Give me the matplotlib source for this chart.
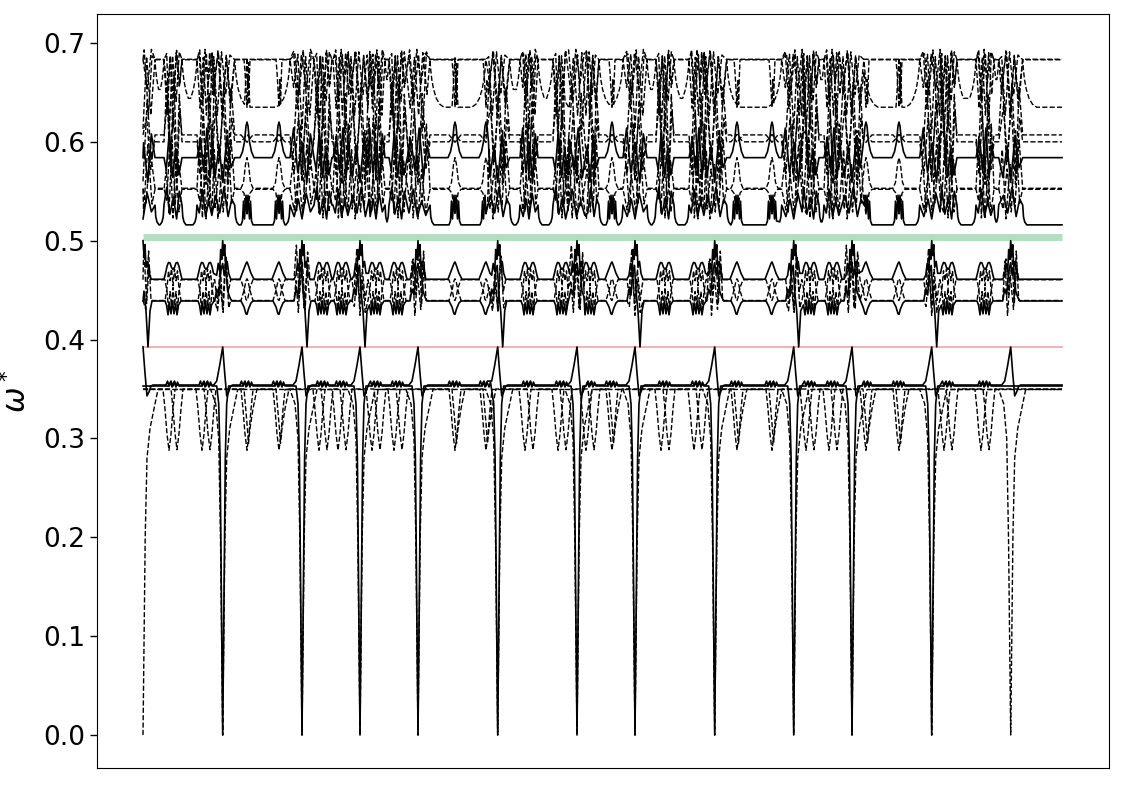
import numpy as np
import matplotlib
matplotlib.use("Agg")
import matplotlib.pyplot as plt

# ------------------------------------------------------------------ data
# k = distance along the path, in picture pixels from the first Gamma point
GAMMA_K = [0, 79.7, 159, 217, 275, 354.7, 434, 492, 571.7, 650.7, 709, 788.7, 867.7]
END_K = 919
FEAT_K = [30, 63, 104, 136, 180, 199, 233, 255, 312, 343, 386, 419,
          447, 469, 522, 555, 594, 629, 667, 690, 723, 756, 805, 842]
FEAT_KIND = "WWVVWWWWVVWWWVWWVVWWVVWW"     # W = double feature, V = single
SOLID_V_AT = [1, 2, 3, 4, 5, 6, 7, 8, 9, 10, 11]   # gammas where solid branch hits 0
DROP_AT = [0, 2, 3, 5, 7, 9, 11]                   # gammas where 0.439 band dips to red line

RED_LEVEL = 0.3925
GREEN_LEVEL = 0.5035
LOW_LEVELS = [0.3530, 0.3540, 0.3495, 0.3495, 0.3500]
MID_LEVELS = [0.461, 0.439, 0.4605, 0.4395]
UP_LEVELS = [0.683, 0.6835, 0.635, 0.607, 0.600, 0.584, 0.553, 0.552, 0.516]

# shapes: (dk, dω)
ACOU_SOLID = [(-6, 0.353), (-4, 0.335), (-2.6, 0.28), (-1.2, 0.13), (0, 0.0),
              (1.2, 0.13), (2.6, 0.28), (4, 0.335), (6, 0.353)]
ACOU_DASH = [(-12, 0.3495), (-7, 0.335), (-4, 0.30), (-2.2, 0.2), (0, 0.0),
             (2.2, 0.2), (4, 0.28), (7, 0.31), (11, 0.33), (15, 0.3495)]
PEAK = [(-9, 0), (-6, 0.004), (-3, 0.02), (0, 0.0385), (2, 0.012), (4, -0.011),
        (6, -0.007), (8, -0.001), (10, 0)]
LOW_BUMP = [(-5, 0), (-3.5, 0.004), (-2, -0.001), (0, 0.004), (2, -0.001), (3.5, 0.004), (5, 0)]
DIP_V = [(-6, 0), (-4, -0.02), (-2, -0.045), (0, -0.0615), (2, -0.045), (4, -0.02), (6, 0)]
SLANT = [(-3, 0), (0, -0.035), (1.5, -0.055), (3, -0.04), (6, -0.02), (10, 0)]

M1_G = [(-8, 0), (-6, 0.004), (-4.5, 0.016), (-3, 0.008), (-2, 0.03), (-1, 0.02), (0, 0.039),
        (1, 0.024), (2, 0.035), (3, 0.012), (4.5, 0.018), (6, 0.006), (8, 0)]
CROWN = [(-9, 0), (-7.5, 0.006), (-6, 0.013), (-4.5, 0.017), (-3, 0.0165), (-1.5, 0.012), (0, 0.01),
         (1.5, 0.012), (3, 0.0165), (4.5, 0.017), (6, 0.013), (7.5, 0.006), (9, 0)]
TRI = [(-7, 0), (-4, 0.008), (-1, 0.016), (0, 0.0175), (1, 0.015), (4, 0.006), (7, 0)]
M2_G = [(-8, 0), (-6, 0.012), (-4, 0.006), (-2, 0.03), (0, 0.038), (1.5, 0.026), (3, 0.033),
        (5, 0.01), (7, 0.004), (9, 0)]
M2_DROP = [(-8, 0), (-6, 0.012), (-4, 0.006), (-2, 0.03), (-0.5, 0.036), (1, 0.01), (3, -0.01),
           (5, -0.0465), (7, -0.01), (9, 0)]
W_DIP = [(-8, 0), (-6.5, -0.004), (-5, -0.014), (-3.5, -0.002), (-2, -0.013), (-0.5, 0.0),
         (1, -0.013), (2.5, -0.003), (4, -0.014), (5.5, -0.004), (8, 0)]
V_DIP = [(-6, 0), (-3, -0.006), (-1, -0.013), (0, -0.0135), (1.5, -0.008), (4, -0.002), (6, 0)]
MD1_W = [(-8, 0), (-6, -0.012), (-4.5, -0.03), (-3, -0.012), (-1.5, -0.026), (0, -0.008),
         (1.5, -0.026), (3, -0.012), (4.5, -0.03), (6, -0.012), (8, 0)]
MD1_V = [(-6, 0), (-3, -0.01), (-1, -0.02), (0, -0.021), (1, -0.018), (3, -0.008), (6, 0)]
MD2_W = [(-8, 0), (-6, 0.012), (-4.5, 0.03), (-3, 0.02), (-1.5, 0.032), (0, 0.015),
         (1.5, 0.032), (3, 0.02), (4.5, 0.03), (6, 0.012), (8, 0)]
MD2_V = [(-6, 0), (-3, 0.01), (-1, 0.02), (0, 0.022), (1, 0.02), (3, 0.01), (6, 0)]

VT1 = [(-3, 0), (-2, -0.012), (-1, -0.03), (0, -0.048), (0.8, -0.02), (1.6, -0.045), (2.4, -0.015), (3, 0)]
VT2 = [(-3, 0), (-2, 0.015), (-1, 0.035), (0, 0.05), (0.8, 0.02), (1.6, 0.045), (2.4, 0.012), (3, 0)]
VP1 = [(-6, 0), (-3, -0.0035), (0, -0.0075), (3, -0.0035), (6, 0)]
VP2 = [(-6, 0), (-3, 0.0035), (0, 0.0075), (3, 0.0035), (6, 0)]
VS584 = [(-7, 0), (-4.5, 0.006), (-2.5, 0.016), (-1, 0.032), (0, 0.036), (1, 0.032),
         (2.5, 0.016), (4.5, 0.006), (7, 0)]
VD553 = [(-6, 0), (-3.5, 0.006), (-1.5, 0.024), (0, 0.031), (1.5, 0.024), (3.5, 0.006), (6, 0)]
VD552 = [(-6, 0), (-3, -0.004), (-1.5, -0.016), (0, -0.025), (1.5, -0.016), (3, -0.004), (6, 0)]
VS516 = [(-6, 0), (-4.5, 0.004), (-3.5, 0.024), (-2.5, 0.006), (-1, 0.03), (0, 0.012), (1, 0.03),
         (2.5, 0.006), (3.5, 0.024), (4.5, 0.004), (6, 0)]
ARC = [(0, 0.048), (0.7, 0.038), (1.8, 0.028), (3.6, 0.018), (6.3, 0.009), (9.8, 0.003), (14, 0)]
CORNER = [(0, 0.02), (0.8, 0.008), (2, 0.003), (4, 0)]

# jagged crossings seen in the tangles (normalised: dk in [-1,1], dω in [-1,1])
ZIGS = [
    [(-1, 0), (-0.6, 0.6), (-0.25, -0.5), (0.1, 1.0), (0.45, -0.8), (0.75, 0.4), (1, 0)],
    [(-1, 0), (-0.65, -0.8), (-0.3, 0.4), (0, -1.0), (0.35, 0.7), (0.7, -0.4), (1, 0)],
    [(-1, 0), (-0.7, 1.0), (-0.35, -0.6), (0.05, 0.5), (0.4, -1.0), (0.7, 0.8), (1, 0)],
    [(-1, 0), (-0.75, -0.5), (-0.4, 0.9), (-0.05, -0.8), (0.3, 0.3), (0.65, -0.7), (1, 0)],
]


# ------------------------------------------------------------------ helpers
def piece(c, tmpl, base=0.0):
    return [(c + dk, base + dw) for dk, dw in tmpl]


def zig(c, h, base, up, down, idx, flip=False, lo=0.507, hi=0.695):
    pat = ZIGS[idx % len(ZIGS)]
    if flip:
        pat = [(-x, v) for x, v in reversed(pat)]
    out = []
    for x, v in pat:
        w = base + (v * up if v > 0 else v * down)
        out.append((c + x * h, min(max(w, lo), hi)))
    return out


def band(level, pieces):
    pieces = sorted([p for p in pieces if p], key=lambda p: p[0][0])
    kept = []
    for p in pieces:                       # drop shapes swallowed by a wider one
        if kept and p[-1][0] <= kept[-1][-1][0]:
            continue
        kept.append(p)
    pts = []
    for i, p in enumerate(kept):
        lo, hi = -np.inf, np.inf
        if i > 0 and kept[i - 1][-1][0] > p[0][0]:
            lo = 0.5 * (kept[i - 1][-1][0] + p[0][0])
        if i < len(kept) - 1 and p[-1][0] > kept[i + 1][0][0]:
            hi = 0.5 * (p[-1][0] + kept[i + 1][0][0])
        pts += [q for q in p if lo < q[0] <= hi]
    pts = [q for q in pts if 0 <= q[0] <= END_K]
    if not pts or pts[0][0] > 0:
        pts.insert(0, (0.0, level))
    pts.append((END_K, level))
    k, w = zip(*pts)
    return np.array(k), np.array(w)


feats = list(zip(FEAT_K, FEAT_KIND))
tangles = sorted([(g, 12) for g in GAMMA_K] + [(c, 9) for c, t in feats if t == "W"])
vfeats = [c for c, t in feats if t == "V"]

SOLID = dict(color="black", lw=1.2, ls="-")
DASH = dict(color="black", lw=1.0, ls="--")
bands = []

# ---- lower group
lv = LOW_LEVELS
bands.append((band(lv[0], [piece(GAMMA_K[i], ACOU_SOLID) for i in SOLID_V_AT]
                     + [piece(c + 1, LOW_BUMP, lv[0]) for c, t in feats]), SOLID))
bands.append((band(lv[1], [piece(g, PEAK, lv[1]) for g in GAMMA_K]
                     + [piece(c - 2, LOW_BUMP, lv[1]) for c, t in feats]), SOLID))
bands.append((band(lv[2], [piece(g, ACOU_DASH) for g in GAMMA_K]), DASH))
bands.append((band(lv[3], [piece(c - 4 if t == "W" else c, DIP_V, lv[3]) for c, t in feats]), DASH))
bands.append((band(lv[4], [piece(c + 4, DIP_V, lv[4]) if t == "W" else piece(c, SLANT, lv[4])
                           for c, t in feats]), DASH))

# ---- middle group
mv = MID_LEVELS
bands.append((band(mv[0], [piece(g, M1_G, mv[0]) for g in GAMMA_K]
                     + [piece(c, CROWN if t == "W" else TRI, mv[0]) for c, t in feats]), SOLID))
bands.append((band(mv[1], [piece(g, M2_DROP if i in DROP_AT else M2_G, mv[1])
                           for i, g in enumerate(GAMMA_K)]
                     + [piece(c, W_DIP if t == "W" else V_DIP, mv[1]) for c, t in feats]), SOLID))
bands.append((band(mv[2], [zig(g, 8, mv[2], 0.035, 0.03, i, lo=0.42, hi=0.50)
                           for i, g in enumerate(GAMMA_K)]
                     + [piece(c, MD1_W if t == "W" else MD1_V, mv[2]) for c, t in feats]), DASH))
bands.append((band(mv[3], [zig(g, 8, mv[3], 0.05, 0.015, i + 2, flip=True, lo=0.42, hi=0.50)
                           for i, g in enumerate(GAMMA_K)]
                     + [piece(c, MD2_W if t == "W" else MD2_V, mv[3]) for c, t in feats]), DASH))

# ---- upper group
uv = UP_LEVELS
UP_SPEC = [  # level index, (up, down), pattern offset, flip, style, V-shape
    (0, (0.010, 0.070), 0, False, DASH, VT1),
    (1, (0.010, 0.050), 2, True, DASH, None),
    (3, (0.060, 0.050), 3, False, DASH, VP1),
    (4, (0.060, 0.040), 1, False, DASH, VP2),
    (5, (0.030, 0.025), 2, False, SOLID, VS584),
    (6, (0.065, 0.030), 0, True, DASH, VD553),
    (7, (0.050, 0.030), 3, True, DASH, VD552),
]
for li, (up, dn), off, fl, st, vshape in UP_SPEC:
    lvl = uv[li]
    ps = [zig(c, h, lvl, up, dn, i + off, flip=fl) for i, (c, h) in enumerate(tangles)]
    if vshape is not None:
        ps += [piece(c, vshape, lvl) for c in vfeats]
    bands.append((band(lvl, ps), st))

# 0.635 band: U-shaped troughs between the tangles
ps = []
for i, (c, h) in enumerate(tangles):
    left = [(c - h - dk, uv[2] + dw) for dk, dw in reversed(ARC)]
    right = [(c + h + dk, uv[2] + dw) for dk, dw in ARC]
    ps.append(left + zig(c, h, uv[0], 0.008, 0.07, i + 1, flip=True)[1:-1] + right)
ps += [piece(c, VT2, uv[2]) for c in vfeats]
bands.append((band(uv[2], ps), DASH))

# 0.516 solid: flat bottoms, spikes in the tangles
ps = []
for i, (c, h) in enumerate(tangles):
    left = [(c - h - dk, uv[8] + dw) for dk, dw in reversed(CORNER)]
    right = [(c + h + dk, uv[8] + dw) for dk, dw in CORNER]
    ps.append(left + zig(c, h, uv[8] + 0.018, 0.02, 0.012, i + 1)[1:-1] + right)
ps += [piece(c, VS516, uv[8]) for c in vfeats]
bands.append((band(uv[8], ps), SOLID))

# ------------------------------------------------------------------ draw
fig = plt.figure(figsize=(11.25, 7.85), dpi=100)
ax = fig.add_axes([97 / 1125, 17 / 785, 1012 / 1125, 754 / 785])

ax.plot([0, END_K], [GREEN_LEVEL, GREEN_LEVEL], color="#b3dfc0", lw=5, solid_capstyle="butt", zorder=1)
ax.plot([0, END_K], [RED_LEVEL, RED_LEVEL], color="#f2a6a6", lw=1.2, zorder=1)
for (k, w), st in bands:
    ax.plot(k, w, zorder=2, **st)

ax.set_xlim(-46, 966)
ax.set_ylim(-0.0334, 0.7293)
ax.set_xticks([])
ax.set_yticks([0.0, 0.1, 0.2, 0.3, 0.4, 0.5, 0.6, 0.7])
ax.set_yticklabels(["0.0", "0.1", "0.2", "0.3", "0.4", "0.5", "0.6", "0.7"])
ax.tick_params(axis="y", labelsize=19, length=5, width=1)
ax.set_ylabel(r"$\omega^*$", fontsize=22, labelpad=8)

fig.savefig("out.png", dpi=100)
